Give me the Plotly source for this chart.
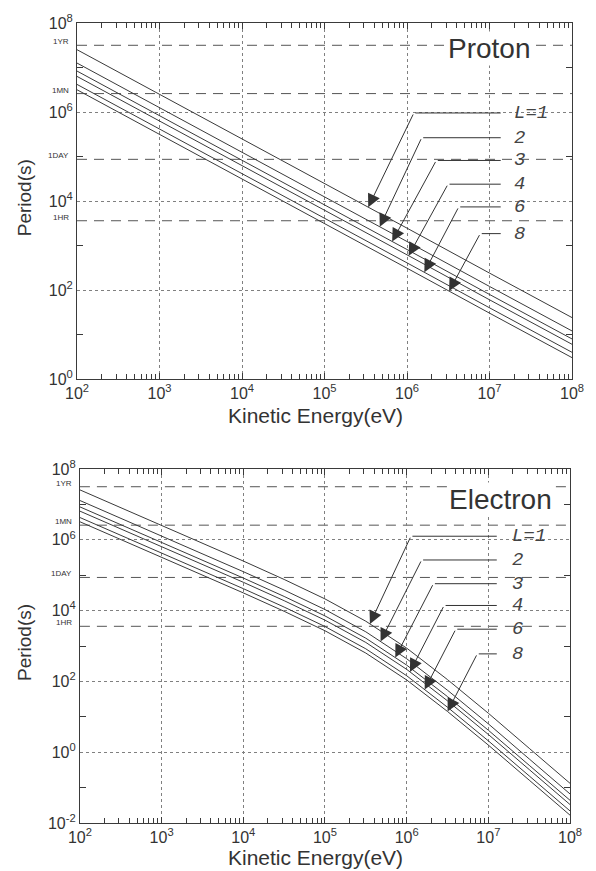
import numpy as np
import plotly.graph_objects as go

# ---------------- data ----------------
L_labels = ["L=1", "2", "3", "4", "6", "8"]

# Proton: log10(kinetic energy / eV) and log10(period / s)
proton_energy_exp = [2, 3, 4, 5, 6, 7, 8]
proton_L1 = [7.40, 6.40, 5.40, 4.39, 3.39, 2.38, 1.38]
proton_L2 = [7.10, 6.10, 5.10, 4.09, 3.09, 2.08, 1.08]
proton_L3 = [6.92, 5.92, 4.92, 3.91, 2.91, 1.90, 0.90]
proton_L4 = [6.80, 5.80, 4.80, 3.79, 2.79, 1.78, 0.78]
proton_L6 = [6.62, 5.62, 4.62, 3.61, 2.61, 1.60, 0.60]
proton_L8 = [6.50, 5.50, 4.50, 3.49, 2.49, 1.48, 0.48]

# Electron
electron_energy_exp = [2, 3, 4, 4.5, 5, 5.5, 6, 6.5, 7, 7.5, 8]
electron_L1 = [7.41, 6.41, 5.40, 4.88, 4.33, 3.70, 2.94, 2.05, 1.10, 0.11, -0.88]
electron_L2 = [7.11, 6.11, 5.10, 4.58, 4.03, 3.40, 2.64, 1.75, 0.80, -0.19, -1.18]
electron_L3 = [6.93, 5.93, 4.92, 4.40, 3.85, 3.22, 2.46, 1.57, 0.62, -0.37, -1.36]
electron_L4 = [6.81, 5.81, 4.80, 4.28, 3.73, 3.10, 2.34, 1.45, 0.50, -0.49, -1.48]
electron_L6 = [6.63, 5.63, 4.62, 4.10, 3.55, 2.92, 2.16, 1.27, 0.32, -0.67, -1.66]
electron_L8 = [6.51, 5.51, 4.50, 3.98, 3.43, 2.80, 2.04, 1.15, 0.20, -0.79, -1.78]

proton_series = [proton_L1, proton_L2, proton_L3, proton_L4, proton_L6, proton_L8]
electron_series = [electron_L1, electron_L2, electron_L3, electron_L4, electron_L6, electron_L8]

# reference time marks (seconds)
time_mark_labels = ["1YR", "1MN", "1DAY", "1HR"]
time_mark_seconds = [3.156e7, 2.592e6, 86400, 3600]

# tick labels (exponents)
x_tick_exp = [2, 3, 4, 5, 6, 7, 8]
top_y_tick_exp = [0, 2, 4, 6, 8]
bot_y_tick_exp = [-2, 0, 2, 4, 6, 8]

# arrow callouts (log10 coordinates): tip energy on curve, elbow, label
top_tip_E = [5.53, 5.67, 5.82, 6.02, 6.21, 6.51]
top_elbow_E = [6.083, 6.178, 6.355, 6.497, 6.627, 6.888]
top_elbow_T = [5.978, 5.422, 4.911, 4.378, 3.867, 3.267]
top_end_E = 7.136
top_label_E = 7.27

bot_tip_E = [5.55, 5.68, 5.86, 6.04, 6.22, 6.50]
bot_elbow_E = [6.052, 6.183, 6.327, 6.458, 6.601, 6.864]
bot_elbow_T = [6.101, 5.430, 4.760, 4.145, 3.475, 2.777]
bot_end_E = 7.103
bot_label_E = 7.26

# ---------------- figure ----------------
LINE = "#3a3a3a"
TXT = "#333333"
FONT = "Liberation Sans, Arial, sans-serif"

fig = go.Figure()
for vals in proton_series:
    fig.add_trace(go.Scatter(
        x=[10 ** e for e in proton_energy_exp], y=[10 ** v for v in vals],
        mode="lines", line=dict(color=LINE, width=1), xaxis="x", yaxis="y",
        showlegend=False, hoverinfo="skip"))
for vals in electron_series:
    fig.add_trace(go.Scatter(
        x=[10 ** e for e in electron_energy_exp], y=[10 ** v for v in vals],
        mode="lines", line=dict(color=LINE, width=1), xaxis="x2", yaxis="y2",
        showlegend=False, hoverinfo="skip"))


def sup(e):
    return "10<sup>%d</sup>" % e


minor_x = [m * 10 ** d for d in range(2, 8) for m in range(2, 10)]


def xaxis_cfg(domain, anchor):
    return dict(
        type="log", range=[2, 8], domain=domain, anchor=anchor,
        tickmode="array", tickvals=[10 ** e for e in x_tick_exp],
        ticktext=[sup(e) for e in x_tick_exp],
        ticks="inside", ticklen=6, tickcolor=LINE,
        showgrid=True, griddash="dot", gridcolor="#808080", gridwidth=1,
        showline=True, linecolor=LINE, linewidth=1, mirror="ticks",
        tickfont=dict(family=FONT, size=16, color=TXT),
        minor=dict(tickmode="array", tickvals=minor_x, ticks="inside",
                   ticklen=5, tickcolor=LINE, showgrid=False),
        zeroline=False,
    )


def yaxis_cfg(domain, anchor, rng, tick_exp):
    minor_y = [10 ** d for d in range(rng[0], rng[1]) if d % 2 != 0]
    return dict(
        type="log", range=rng, domain=domain, anchor=anchor,
        tickmode="array", tickvals=[10 ** e for e in tick_exp],
        ticktext=[sup(e) for e in tick_exp],
        ticks="inside", ticklen=0, tickcolor=LINE,
        showgrid=True, griddash="dot", gridcolor="#808080", gridwidth=1,
        showline=True, linecolor=LINE, linewidth=1, mirror="ticks",
        tickfont=dict(family=FONT, size=16, color=TXT),
        minor=dict(tickmode="array", tickvals=minor_y, ticks="inside",
                   ticklen=6, tickcolor=LINE, showgrid=False),
        zeroline=False,
    )


top_dom = [0.555, 1.0]
bot_dom = [0.0, 0.4425]
fig.update_layout(
    width=596, height=871,
    margin=dict(l=77, r=12, t=14, b=48),
    paper_bgcolor="white", plot_bgcolor="white",
    xaxis=xaxis_cfg([0, 1], "y"),
    yaxis=yaxis_cfg(top_dom, "x", [0, 8], top_y_tick_exp),
    xaxis2=xaxis_cfg([0.0059, 0.9961], "y2"),
    yaxis2=yaxis_cfg(bot_dom, "x2", [-2, 8], bot_y_tick_exp),
    font=dict(family=FONT, color=TXT),
)

shapes = []
annotations = []
for xr, yr in (("x", "y"), ("x2", "y2")):
    for lab, sec in zip(time_mark_labels, time_mark_seconds):
        shapes.append(dict(type="line", xref=xr + " domain", yref=yr,
                           x0=0, x1=1, y0=sec, y1=sec, layer="below",
                           line=dict(color="#555555", width=1, dash="10px,7px")))
        annotations.append(dict(xref=xr + " domain", yref=yr, x=-0.012,
                                y=np.log10(sec), xanchor="right", yanchor="bottom",
                                yshift=-3, text=lab, showarrow=False,
                                font=dict(family=FONT, size=8, color=TXT)))

# callout arrows
callouts = [
    ("x", "y", proton_energy_exp, proton_series, top_tip_E, top_elbow_E, top_elbow_T, top_end_E, top_label_E),
    ("x2", "y2", electron_energy_exp, electron_series, bot_tip_E, bot_elbow_E, bot_elbow_T, bot_end_E, bot_label_E),
]
for xr, yr, ex, series, tipE, elE, elT, endE, labE in callouts:
    for i, vals in enumerate(series):
        tipT = float(np.interp(tipE[i], ex, vals))
        annotations.append(dict(xref=xr, yref=yr, axref=xr, ayref=yr,
                                x=tipE[i], y=tipT, ax=elE[i], ay=elT[i],
                                text="", showarrow=True, arrowhead=2, arrowsize=2.6,
                                arrowwidth=1, arrowcolor="#333333", standoff=0,
                                startstandoff=0))
        annotations.append(dict(xref=xr, yref=yr, axref=xr, ayref=yr,
                                x=endE, y=elT[i], ax=elE[i], ay=elT[i],
                                text="", showarrow=True, arrowhead=0,
                                arrowwidth=1, arrowcolor="#333333", standoff=0,
                                startstandoff=0))
        annotations.append(dict(xref=xr, yref=yr, x=labE, y=elT[i],
                                xanchor="left", yanchor="middle",
                                text="<i>%s</i>" % L_labels[i], showarrow=False,
                                font=dict(family="Liberation Mono, Courier New, monospace",
                                          size=19, color="#444444")))

# panel titles
annotations.append(dict(xref="paper", yref="paper", x=0.834, y=0.968,
                        xanchor="center", yanchor="middle", bgcolor="white",
                        text="Proton", showarrow=False,
                        font=dict(family=FONT, size=28, color=TXT)))
annotations.append(dict(xref="paper", yref="paper", x=0.856, y=0.405,
                        xanchor="center", yanchor="middle", bgcolor="white",
                        text="Electron", showarrow=False,
                        font=dict(family=FONT, size=28, color=TXT)))

# axis titles
for yc in (0.781, 0.225):
    annotations.append(dict(xref="paper", yref="paper", x=-0.107, y=yc,
                            xanchor="center", yanchor="middle",
                            text="Period(s)", textangle=-90, showarrow=False,
                            font=dict(family=FONT, size=19, color=TXT)))
for yc in (0.509, -0.0433):
    annotations.append(dict(xref="paper", yref="paper", x=0.481, y=yc,
                            xanchor="center", yanchor="middle",
                            text="Kinetic Energy(eV)", showarrow=False,
                            font=dict(family=FONT, size=21, color=TXT)))

fig.update_layout(shapes=shapes, annotations=annotations)
fig.write_html("out.html")
